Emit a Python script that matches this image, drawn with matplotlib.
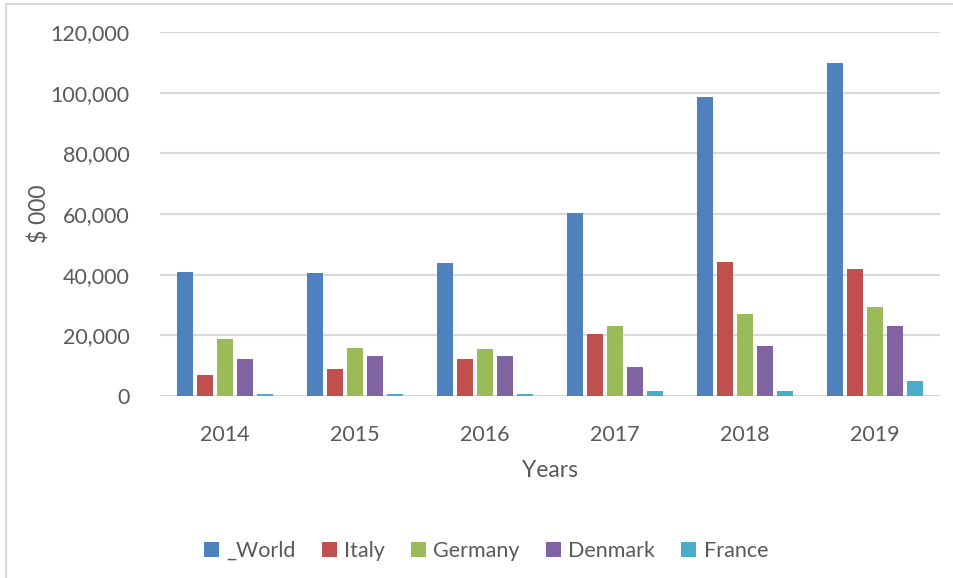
import numpy as np
import matplotlib.pyplot as plt
from matplotlib.lines import Line2D
from matplotlib.patches import Patch

years = ["2014", "2015", "2016", "2017", "2018", "2019"]
series = ["_World", "Italy", "Germany", "Denmark", "France"]
world = [40800, 40500, 43800, 60300, 98600, 109800]
italy = [6800, 8800, 12100, 20400, 44100, 41800]
germany = [18700, 15700, 15400, 23000, 27000, 29300]
denmark = [12100, 13100, 13100, 9500, 16400, 23000]
france = [500, 500, 500, 1500, 1500, 4900]
colors = ["#4F81BD", "#C0504D", "#9BBB59", "#8064A2", "#4BACC6"]

plt.rcParams['font.family'] = ['Lato', 'DejaVu Sans']

fig = plt.figure(figsize=(9.54, 5.78), dpi=100)
ax = fig.add_axes([160 / 954, 1 - 395.7 / 578, 780 / 954, 363.3 / 578])

x = np.arange(len(years))
step = 20 / 130
width = 16 / 130
for i, vals in enumerate([world, italy, germany, denmark, france]):
    ax.bar(x + (i - 2) * step, vals, width, color=colors[i], zorder=3)

ax.set_xlim(-0.5, len(years) - 0.5)
ax.set_ylim(0, 120000)
ax.set_yticks(np.arange(0, 120001, 20000))
ax.set_yticklabels([f"{v:,}" for v in range(0, 120001, 20000)])
ax.set_xticks(x)
ax.set_xticklabels(years)
ax.grid(axis='y', color='#D9D9D9', linewidth=1.5, zorder=0)
ax.tick_params(axis='both', length=0, labelsize=15.5, colors='#595959')
ax.tick_params(axis='x', pad=21)
ax.tick_params(axis='y', pad=22)
for s in ax.spines.values():
    s.set_visible(False)

ax.set_xlabel("Years", fontsize=16.5, color='#595959', labelpad=11)
ax.set_ylabel("$ 000", fontsize=16.5, color='#595959', labelpad=0)

handles = [Patch(facecolor=c, label=n) for c, n in zip(colors, series)]
fig.legend(handles=handles, loc='center', bbox_to_anchor=(486 / 954, 1 - 551 / 578), ncol=5,
           frameon=False, fontsize=15.5, handlelength=0.7, handleheight=0.7,
           handletextpad=0.35, columnspacing=1.2, labelcolor='#595959')

# chart area border (only top and left visible)
fig.add_artist(Line2D([6.5 / 954, 6.5 / 954], [0, 1 - 4 / 578], color='#D9D9D9', linewidth=1.5))
fig.add_artist(Line2D([6.5 / 954, 1], [1 - 4 / 578, 1 - 4 / 578], color='#D9D9D9', linewidth=1.5))

plt.savefig("out.png", dpi=100)
plt.close()
